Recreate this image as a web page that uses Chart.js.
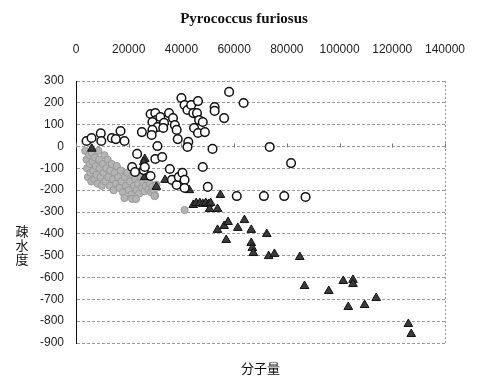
<!DOCTYPE html>
<html>
<head>
<meta charset="utf-8">
<script src="https://cdn.jsdelivr.net/npm/chart.js@4"></script>
<style>
  html, body { margin: 0; padding: 0; background: #fff; }
  #wrap { width: 481px; height: 383px; }
</style>
</head>
<body>
<div id="wrap"><canvas id="hydroChart" width="481" height="383"></canvas></div>
<script>
// Tick labels
const xTicks = [0, 20000, 40000, 60000, 80000, 100000, 120000, 140000];
const yTicks = [300, 200, 100, 0, -100, -200, -300, -400, -500, -600, -700, -800, -900];

// Open circles (molecular weight / hydropathy)
const openX = [4000, 5900, 9400, 9600, 13600, 15100, 16900, 18400, 25000, 23200,
  28300, 30100, 30500, 29000, 30900, 29000, 28700, 32000, 33400, 33100,
  35300, 36800, 37500, 38200, 40000, 41200, 42300, 43700, 44500, 46300,
  45900, 46700, 44800, 46300, 48100, 30900, 30100, 32700, 38600, 42600,
  42300, 21300, 22400, 25700, 26100, 28300, 35600, 36400, 38200, 39000,
  40400, 41200, 41200, 48100, 58100, 63600, 52600, 52600, 56200, 48900,
  51800, 73500, 81600, 50000, 61000, 71300, 79000, 87100];
const openY = [25, 39, 60, 25, 39, 34, 71, 25, 66, -34,
  149, 153, 121, 112, 89, 76, 53, 135, 108, 85,
  153, 130, 98, 76, 222, 190, 167, 190, 153, 208,
  153, 121, 85, 62, 112, 2, -57, -48, 34, 21,
  -2, -94, -117, -108, -94, -135, -103, -153, -176, -140,
  -121, -153, -190, -94, 250, 199, 181, 163, 130, 66,
  -11, -2, -76, -185, -227, -227, -227, -231];

// Gray filled dots
const grayX = [3500, 4000, 4200, 4500, 5000, 5200, 5500, 5800, 6000, 6300,
  6600, 7000, 7200, 7500, 7800, 8200, 8500, 8800, 9000, 9300,
  9800, 10200, 10500, 10800, 11200, 11500, 12000, 12300, 12800, 13000,
  13500, 14000, 14300, 14800, 15200, 15500, 16000, 16500, 17000, 17300,
  17800, 18500, 19000, 19500, 20000, 20500, 21000, 21500, 22000, 22500,
  23000, 23500, 24000, 24500, 25000, 25500, 26000, 26500, 27000, 27500,
  28000, 28500, 29000, 29500, 30000, 30500, 18400, 21300, 22800, 29800, 41200];
const grayY = [-20, -60, -100, -140, -40, -80, -120, -160, -30, -70,
  -110, -150, -50, -90, -130, -170, -20, -60, -100, -140,
  -180, -80, -120, -40, -160, -100, -60, -140, -180, -110,
  -80, -150, -200, -120, -170, -90, -140, -190, -110, -160,
  -210, -140, -180, -120, -200, -160, -220, -130, -180, -150,
  -200, -170, -215, -140, -190, -165, -205, -180, -150, -195,
  -170, -210, -185, -200, -225, -175, -236, -240, -240, -227, -291];

// Dark triangles
const triX = [6000, 26100, 25700, 26100, 30500, 33800, 43000, 54800, 44500, 45600,
  47000, 48100, 49200, 50300, 51100, 50700, 53700, 53700, 56200, 57700,
  61400, 63900, 66500, 57000, 66500, 66900, 67300, 72400, 73100, 75300,
  84900, 86700, 95900, 101400, 105100, 105100, 103300, 109500, 113900, 126100, 127200];
const triY = [-10, -57, -71, -140, -185, -153, -200, -222, -268, -259,
  -259, -263, -259, -263, -259, -286, -286, -382, -364, -346,
  -373, -337, -382, -428, -442, -465, -488, -401, -502, -492,
  -506, -639, -662, -616, -611, -630, -735, -726, -694, -813, -859];

const pairs = (xs, ys) => xs.map((x, i) => ({ x: x, y: ys[i] }));

// Titles, right border and the small tick marks on the zero line
const decorPlugin = {
  id: 'decor',
  afterDraw(chart) {
    const ctx = chart.ctx;
    const area = chart.chartArea;
    const xs = chart.scales.x;
    const ys = chart.scales.y;
    ctx.save();

    // dotted right edge of the plot
    ctx.strokeStyle = '#999';
    ctx.lineWidth = 1;
    ctx.setLineDash([2, 2]);
    ctx.beginPath();
    ctx.moveTo(area.right + 0.5, area.top);
    ctx.lineTo(area.right + 0.5, area.bottom);
    ctx.stroke();
    ctx.setLineDash([]);

    // tick marks sitting on the 0 line
    const y0 = Math.round(ys.getPixelForValue(0)) + 0.5;
    ctx.strokeStyle = '#777';
    xTicks.forEach(v => {
      const px = Math.round(xs.getPixelForValue(v)) + 0.5;
      ctx.beginPath();
      ctx.moveTo(px, y0);
      ctx.lineTo(px, y0 - 4);
      ctx.stroke();
    });

    // chart title
    ctx.fillStyle = '#111';
    ctx.textAlign = 'center';
    ctx.textBaseline = 'middle';
    ctx.font = 'bold 15px "Liberation Serif", "DejaVu Serif", serif';
    ctx.fillText('Pyrococcus furiosus', 244, 19);

    // axis titles
    ctx.font = '13px "Noto Sans CJK JP", sans-serif';
    ctx.fillText('分子量', (area.left + area.right) / 2, 368);
    const yChars = ['疎', '水', '度'];
    yChars.forEach((c, i) => ctx.fillText(c, 22, 231 + i * 14));
    ctx.restore();
  }
};

const ctx = document.getElementById('hydroChart').getContext('2d');
new Chart(ctx, {
  type: 'scatter',
  data: {
    datasets: [
      {
        label: 'open',
        data: pairs(openX, openY),
        pointStyle: 'circle',
        pointRadius: 4.3,
        backgroundColor: '#fff',
        borderColor: '#111',
        borderWidth: 1.5
      },
      {
        label: 'triangle',
        data: pairs(triX, triY),
        pointStyle: 'triangle',
        pointRadius: 5,
        backgroundColor: '#3a3a3a',
        borderColor: '#111',
        borderWidth: 1
      },
      {
        label: 'gray',
        data: pairs(grayX, grayY),
        pointStyle: 'circle',
        pointRadius: 3.6,
        backgroundColor: '#b4b4b4',
        borderColor: '#999',
        borderWidth: 1
      }
    ]
  },
  options: {
    responsive: false,
    animation: false,
    layout: { padding: { top: 40, left: 0, right: 24, bottom: 40 } },
    scales: {
      x: {
        type: 'linear',
        position: 'top',
        min: 0,
        max: 140000,
        afterBuildTicks: s => { s.ticks = xTicks.map(v => ({ value: v })); },
        afterFit: s => { s.height = 41; },
        ticks: {
          padding: 16,
          maxRotation: 0,
          color: '#222',
          font: { family: '"Liberation Sans", Arial, sans-serif', size: 12 },
          callback: v => String(v)
        },
        grid: { display: false },
        border: { display: false }
      },
      y: {
        min: -900,
        max: 300,
        afterBuildTicks: s => { s.ticks = yTicks.map(v => ({ value: v })); },
        afterFit: s => { s.width = 76; },
        ticks: {
          padding: 12,
          color: '#222',
          font: { family: '"Liberation Sans", Arial, sans-serif', size: 12 }
        },
        grid: { color: '#9a9a9a', drawTicks: false, lineWidth: 1 },
        border: { display: true, color: '#111', width: 1, dash: [3, 2] }
      }
    },
    plugins: {
      legend: { display: false },
      tooltip: { enabled: false },
      title: { display: false }
    }
  },
  plugins: [decorPlugin]
});
</script>
</body>
</html>
